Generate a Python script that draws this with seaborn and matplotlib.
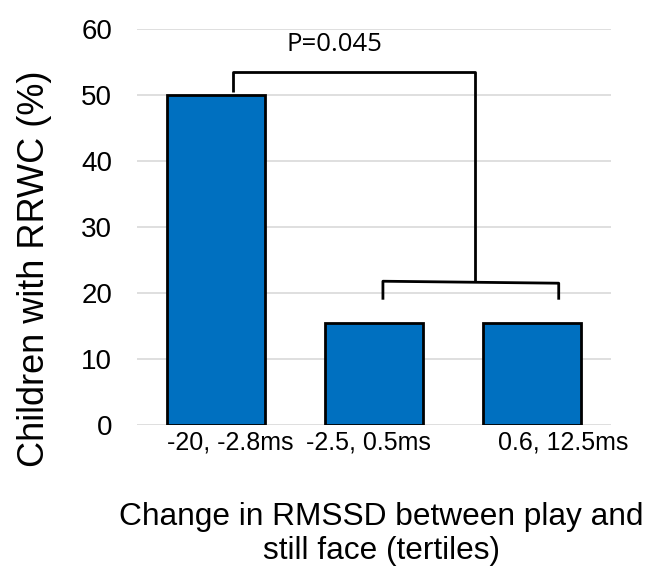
import pandas as pd
import matplotlib.pyplot as plt
import matplotlib.transforms as mtransforms
import seaborn as sns

# ---------------- DATA ----------------
tertiles = ["-20, -2.8ms", "-2.5, 0.5ms", "0.6, 12.5ms"]
rrwc_pct = [50.0, 15.4, 15.4]
p_label = "P=0.045"

df = pd.DataFrame({"tertile": tertiles, "rrwc": rrwc_pct})

# ---------------- PLOT ----------------
sns.set_style("white")
plt.rcParams["font.family"] = ["Liberation Sans", "DejaVu Sans"]
plt.rcParams["text.color"] = "black"
plt.rcParams["xtick.color"] = "black"
plt.rcParams["ytick.color"] = "black"

fig = plt.figure(figsize=(6.54, 5.7), dpi=100)
ax = fig.add_axes([0.2095, 0.2544, 0.7245, 0.6942])

sns.barplot(data=df, x="tertile", y="rrwc", color="#0070C0", saturation=1,
            width=0.62, edgecolor="black", linewidth=2, ax=ax, zorder=3)

ax.set_ylim(0, 60)
ax.set_xlim(-0.5, 2.5)
ax.set_yticks(range(0, 61, 10))
ax.yaxis.grid(True, color="#d9d9d9", linewidth=1.2, zorder=0)
ax.set_axisbelow(True)
sns.despine(ax=ax, left=True, bottom=True)
ax.tick_params(axis="y", labelsize=20, length=0, pad=18)
ax.tick_params(axis="x", labelsize=18, length=0, pad=4)

# excel-like small shifts of the category labels
for lab, dx in zip(ax.get_xticklabels(), [14, -5, 31]):
    lab.set_transform(lab.get_transform() +
                      mtransforms.ScaledTranslation(dx / 100, 0, fig.dpi_scale_trans))

ax.set_ylabel("")
ax.set_xlabel("")
fig.text(0.0535, 0.529, "Children with RRWC (%)", rotation=90,
         ha="center", va="center", fontsize=26)
fig.text(0.583, 0.063, "Change in RMSSD between play and\nstill face (tertiles)",
         ha="center", va="center", fontsize=22.8, linespacing=1.2)

# significance brackets
k = dict(color="black", lw=2, solid_capstyle="butt", zorder=4, clip_on=False)
ax.plot([0.108, 0.108, 1.64, 1.64], [50.5, 53.5, 53.5, 21.8], **k)
ax.plot([1.057, 1.057, 2.17, 2.17], [19.0, 21.8, 21.5, 19.0], **k)
ax.text(0.75, 57.7, p_label, ha="center", va="center", fontsize=18.5,
        family=["Open Sans", "DejaVu Sans"])

plt.savefig("out.png", dpi=100)
